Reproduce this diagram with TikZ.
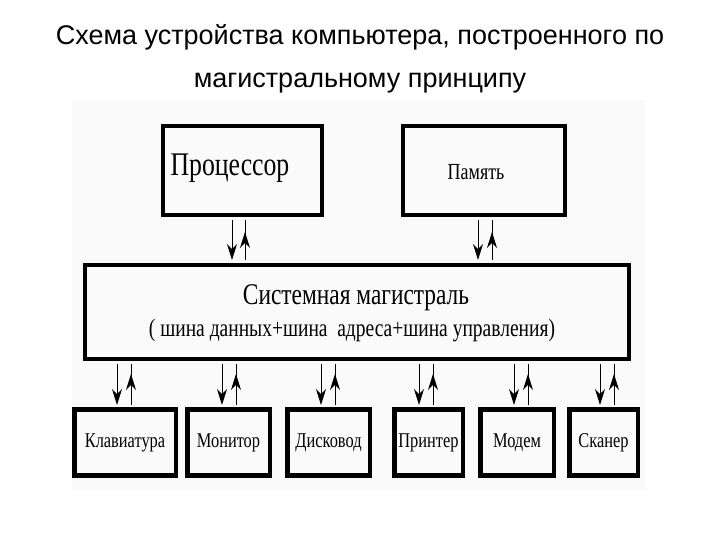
\documentclass[tikz,border=0pt]{standalone}
\usepackage{fontspec}
\setmainfont{Liberation Sans}
\newfontfamily\bx[FakeStretch=0.78]{Liberation Serif}
\usetikzlibrary{arrows.meta,calc}
\begin{document}
\begin{tikzpicture}[x=1pt,y=-1pt,
  blk/.style={draw,line width=4.5pt,inner sep=0pt},
  ar/.style={line width=0.8pt,-{Stealth[length=16pt,width=10pt]}},
  ln/.style={line width=0.8pt}]
\useasboundingbox (0,0) rectangle (720,540);
\fill[black!2] (72,100) rectangle (645,490);
\node at (360,37) {\fontsize{27}{30}\selectfont Схема устройства компьютера, построенного по};
\node at (360,83) {\fontsize{27}{30}\selectfont магистральному принципу};
\node[blk,minimum width=159pt,minimum height=89pt] (p) at (242.5,170.5) {};
\node at (230,168) {\bx\fontsize{33}{36}\selectfont Процессор};
\node[blk,minimum width=162pt,minimum height=89pt] (m) at (484,170.5) {};
\node at (476,172) {\bx\fontsize{23}{26}\selectfont Память};
\node[blk,minimum width=544pt,minimum height=94pt] (s) at (357,312) {};
\node at (356,298) {\bx\fontsize{30}{32}\selectfont Системная магистраль};
\node at (352,331) {\bx\fontsize{25}{28}\selectfont ( шина данных+шина\ \ адреса+шина управления)};
\foreach \n/\a/\b/\t/\c in {k/72/178/Клавиатура/117, mo/185/272/Монитор/222, d/285/372/Дисковод/321, pr/392/465/Принтер/419, md/478/556/Модем/514, sc/567/640/Сканер/600}{
  \node[blk,minimum width=\b-\a-4.5,minimum height=66pt] (\n) at ({(\a+\b)/2},442.5) {};
  \node at (\n.center) {\bx\fontsize{21}{24}\selectfont \t};
  \draw[ar] (\c,364) -- (\c,405);
  \draw[ln] (\c+14,405) -- (\c+14,364);
  \draw[ar] (\c+14,405) -- (\c+14,374);
}
\draw[ar] (232,220) -- (232,260);
\draw[ln] (245,260) -- (245,220);
\draw[ar] (245,260) -- (245,232);
\draw[ar] (478,220) -- (478,260);
\draw[ln] (492,260) -- (492,220);
\draw[ar] (492,260) -- (492,232);
\end{tikzpicture}
\end{document}
